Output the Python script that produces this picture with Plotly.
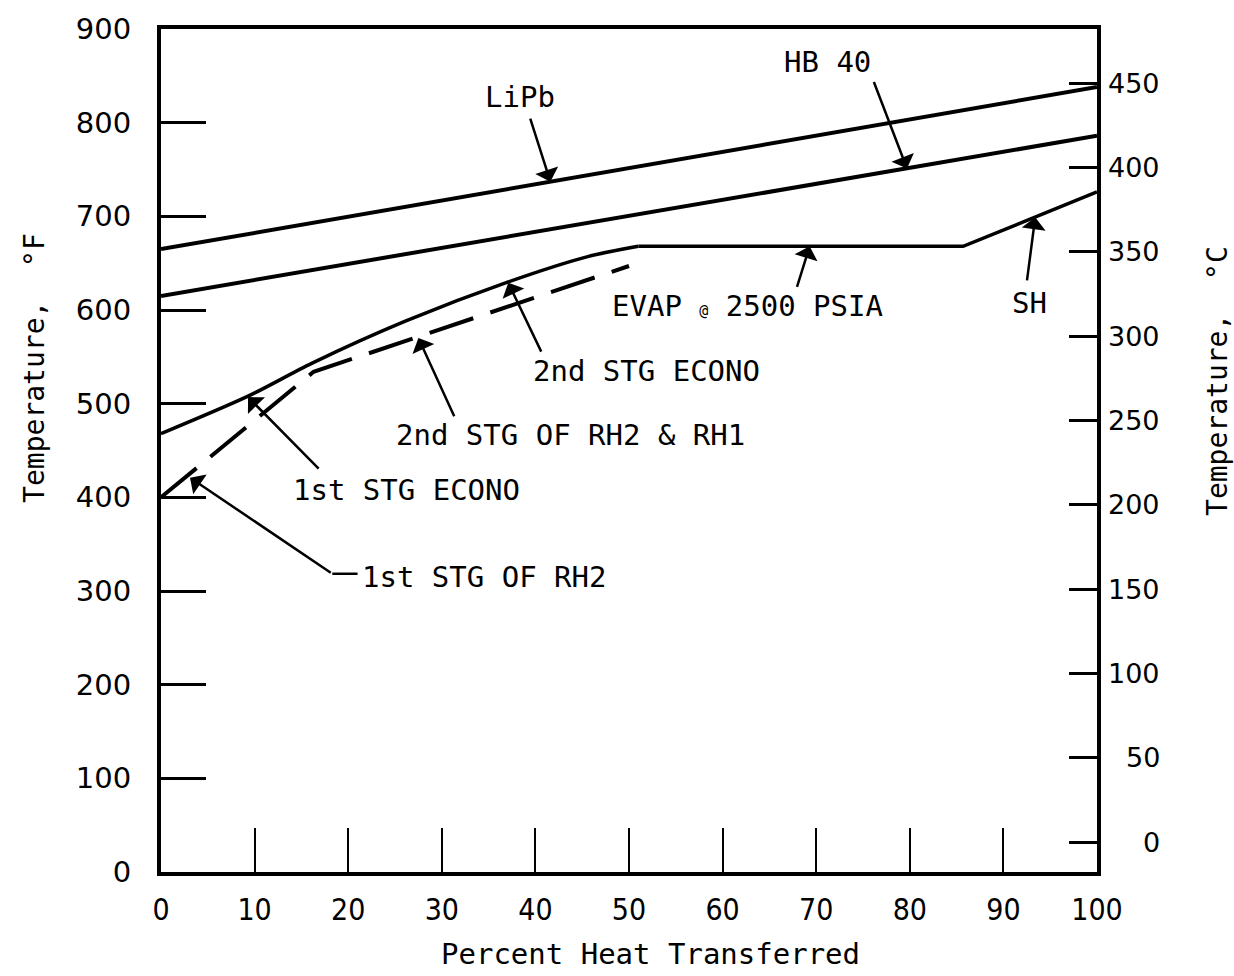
import plotly.graph_objects as go

# Temperature profiles vs. percent heat transferred (°F)
pct_lipb = [0, 100]
temp_lipb = [665, 838]

pct_hb40 = [0, 100]
temp_hb40 = [615, 786]

# Steam side: 1st/2nd stage economizers (curved portion)
pct_econ = [0, 9.3, 16.1, 26.1, 37.1, 45.6, 51]
temp_econ = [468, 508, 543, 588, 630, 657, 668]

# Steam side: evaporator @ 2500 psia and superheater
pct_evap_sh = [51, 85.7, 100]
temp_evap_sh = [668, 668, 726]

# Reheater (RH2 1st stage, then 2nd stage of RH2 & RH1)
pct_rh = [0, 16.3, 50]
temp_rh = [400, 534, 647]

# Axis ticks
x_ticks = [0, 10, 20, 30, 40, 50, 60, 70, 80, 90, 100]
f_ticks = [0, 100, 200, 300, 400, 500, 600, 700, 800, 900]
c_ticks = [0, 50, 100, 150, 200, 250, 300, 350, 400, 450]

F_MIN, F_MAX = 0, 900
C_MIN, C_MAX = (F_MIN - 32) / 1.8, (F_MAX - 32) / 1.8

LABEL_FONT = dict(family="DejaVu Sans Mono", size=29, color="black")
TITLE_FONT = dict(family="DejaVu Sans Mono", size=28, color="black")

fig = go.Figure()

line_style = dict(color="black", width=4)
fig.add_trace(go.Scatter(x=pct_lipb, y=temp_lipb, mode="lines", line=line_style))
fig.add_trace(go.Scatter(x=pct_hb40, y=temp_hb40, mode="lines", line=line_style))
fig.add_trace(go.Scatter(x=pct_econ, y=temp_econ, mode="lines",
                         line=dict(color="black", width=3.5, shape="spline",
                                   smoothing=0.8)))
fig.add_trace(go.Scatter(x=pct_evap_sh, y=temp_evap_sh, mode="lines",
                         line=dict(color="black", width=3.5)))
fig.add_trace(go.Scatter(x=pct_rh, y=temp_rh, mode="lines",
                         line=dict(color="black", width=4, dash="46px,18px")))
# invisible trace to activate the °C axis
fig.add_trace(go.Scatter(x=[0], y=[C_MIN], yaxis="y2", mode="markers",
                         marker=dict(opacity=0), hoverinfo="skip"))

# Labels: (text, text x, text y, arrow tail x, tail y, tip x, tip y)
labels = [
    ("LiPb", 38.4, 827, 39.4, 806, 41.6, 737),
    ("HB 40", 71.2, 865, 76.1, 845, 79.7, 751),
    ("EVAP <span style='font-size:15px'>@</span> 2500 PSIA", 62.7, 604, 67.9, 623, 69.3, 668),
    ("SH", 92.8, 607, 92.5, 630, 93.4, 699),
    ("2nd STG ECONO", 51.9, 535, 40.7, 554, 37.1, 629),
    ("2nd STG OF RH2 &amp; RH1", 43.8, 467, 31.4, 485, 27.5, 570),
    ("1st STG ECONO", 26.2, 408, 17.0, 429, 9.3, 507),
]

annotations = []
for text, tx, ty, ax, ay, hx, hy in labels:
    annotations.append(dict(x=tx, y=ty, xref="x", yref="y", text=text,
                            showarrow=False, font=LABEL_FONT,
                            xanchor="center", yanchor="middle"))
    annotations.append(dict(x=hx, y=hy, ax=ax, ay=ay, xref="x", yref="y",
                            axref="x", ayref="y", text="", showarrow=True,
                            arrowhead=1, arrowsize=1.6, arrowwidth=2.5,
                            arrowcolor="black", standoff=0, startstandoff=0))

# 1st STG OF RH2 label with bent leader
annotations.append(dict(x=21.3, y=315, xref="x", yref="y", text="1st STG OF RH2",
                        showarrow=False, font=LABEL_FONT,
                        xanchor="left", yanchor="middle"))
annotations.append(dict(x=3.1, y=421, ax=18.3, ay=318.4, xref="x", yref="y",
                        axref="x", ayref="y", text="", showarrow=True,
                        arrowhead=1, arrowsize=1.6, arrowwidth=2.5,
                        arrowcolor="black", standoff=0, startstandoff=0))
shapes = [dict(type="line", xref="x", yref="y", x0=18.3, y0=318.4, x1=21.0, y1=318.4,
               line=dict(color="black", width=2.5))]

# °C tick labels, right-aligned
for c in c_ticks:
    annotations.append(dict(x=1.0694, y=c, xref="paper", yref="y2", text=str(c),
                            showarrow=False,
                            font=dict(family="DejaVu Sans", size=27, color="black"),
                            xanchor="right", yanchor="middle"))

# Axis titles
annotations.append(dict(x=-0.1346, y=0.598, xref="paper", yref="paper",
                        xanchor="center", yanchor="middle",
                        text="Temperature,  °F", textangle=-90, showarrow=False,
                        font=TITLE_FONT))
annotations.append(dict(x=1.1293, y=0.5825, xref="paper", yref="paper",
                        xanchor="center", yanchor="middle",
                        text="Temperature,  °C", textangle=-90, showarrow=False,
                        font=TITLE_FONT))
annotations.append(dict(x=0.5235, y=-0.097, xref="paper", yref="paper",
                        text="Percent Heat Transferred", showarrow=False,
                        font=dict(family="DejaVu Sans Mono", size=29, color="black"),
                        xanchor="center", yanchor="middle"))

fig.update_layout(
    width=1234, height=976,
    margin=dict(l=161, r=137, t=24, b=104),
    paper_bgcolor="white", plot_bgcolor="white",
    showlegend=False,
    annotations=annotations,
    shapes=shapes,
    xaxis=dict(range=[0, 100], tickvals=x_ticks, ticktext=[str(v) for v in x_ticks],
               ticks="inside", ticklen=44, tickwidth=2, tickcolor="black",
               showline=True, linewidth=4, linecolor="black", mirror=True,
               showgrid=False, zeroline=False,
               tickfont=dict(family="DejaVu Sans Condensed, DejaVu Sans", size=30,
                             color="black"),
               ticklabelstandoff=8),
    yaxis=dict(range=[F_MIN, F_MAX], tickvals=f_ticks, ticktext=[str(v) for v in f_ticks],
               ticks="inside", ticklen=45, tickwidth=2.5, tickcolor="black",
               showline=True, linewidth=4, linecolor="black", mirror=True,
               showgrid=False, zeroline=False,
               tickfont=dict(family="DejaVu Sans", size=29, color="black"),
               ticklabelstandoff=20),
    yaxis2=dict(range=[C_MIN, C_MAX], overlaying="y", side="right",
                tickvals=c_ticks, showticklabels=False,
                ticks="inside", ticklen=28, tickwidth=2.5, tickcolor="black",
                showline=False, showgrid=False, zeroline=False),
)

fig.write_html("out.html")
